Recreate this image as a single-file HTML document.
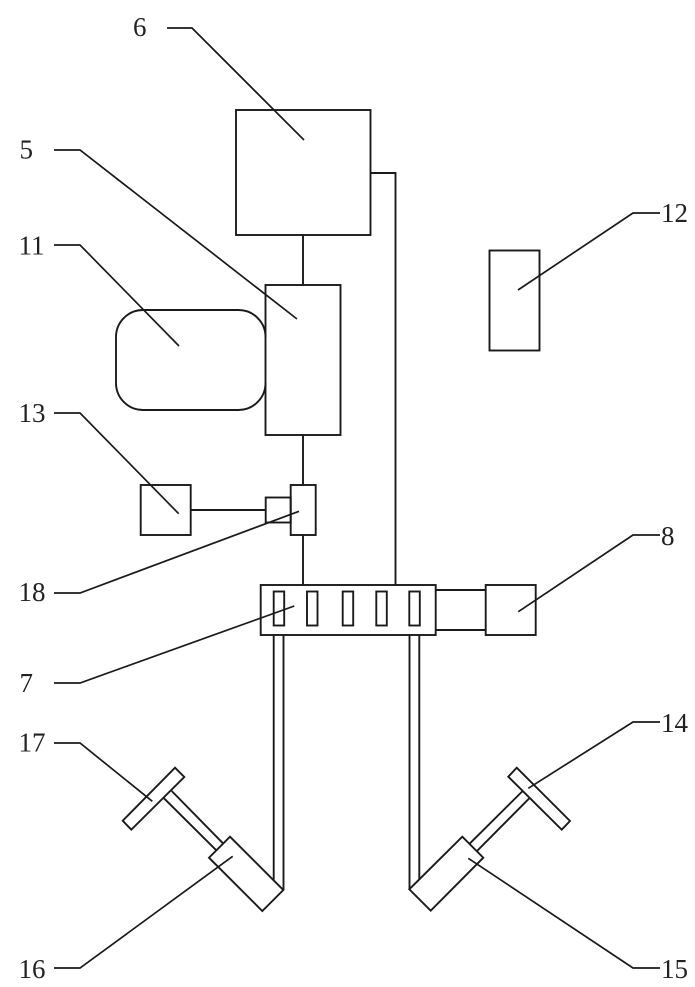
<!DOCTYPE html>
<html><head><meta charset="utf-8"><style>
html,body{margin:0;padding:0;background:#fff;width:695px;height:987px;overflow:hidden}
svg{display:block}
text{font-family:"Liberation Serif",serif;font-size:27px;fill:#222}
.s{fill:none;stroke:#1a1a1a;stroke-width:1.9}
.l{fill:none;stroke:#1a1a1a;stroke-width:1.7}
</style></head><body>
<svg width="695" height="987" viewBox="0 0 695 987" xmlns="http://www.w3.org/2000/svg">
<g class="s">
<rect x="236" y="110" width="134.5" height="125"/>
<rect x="265.5" y="285" width="75" height="150"/>
<path d="M265.5 337A27 27 0 0 0 238.5 310H143A27 27 0 0 0 116 337V383A27 27 0 0 0 143 410H238.5A27 27 0 0 0 265.5 383"/>
<rect x="489.5" y="250.5" width="50" height="100"/>
<rect x="140.7" y="485" width="50" height="50"/>
<rect x="265.7" y="497.5" width="25" height="25"/>
<rect x="290.7" y="485" width="25" height="50"/>
<rect x="260.7" y="585" width="175" height="50"/>
<rect x="485.7" y="585" width="50" height="50"/>
<rect x="273.7" y="591.5" width="10.5" height="34"/>
<rect x="307" y="591.5" width="10.5" height="34"/>
<rect x="342.7" y="591.5" width="10.5" height="34"/>
<rect x="376.3" y="591.5" width="10.5" height="34"/>
<rect x="409.3" y="591.5" width="10.5" height="34"/>
<path d="M303 235V285M303 435V485M303 535V585"/>
<path d="M370.5 173H395.5V585"/>
<path d="M190.7 510H265.7"/>
<path d="M435.7 590H485.7M435.7 630H485.7"/>
<path d="M273.7 635V880M283.5 635V890"/>
<path d="M409.5 635V889.5M419.3 635V880"/>
<polygon points="175,767.7 184.3,777 131.3,829.7 122.7,820.7"/>
<path d="M171.7 791L223 843.3M164 798.3L216.7 850.7"/>
<polygon points="230,836.7 283.3,890 262.3,911 209,857.7"/>
<polygon points="516.7,767.7 570,821 561.7,829.7 508.3,776.7"/>
<path d="M522.7 791L470 843.3M529.3 798.3L477.3 850.7"/>
<polygon points="462.3,836.7 483.3,857.7 430.7,910.7 409.3,889.3"/>
</g>
<g class="l">
<path d="M167 28H192L304 140"/>
<path d="M54 150H80L297 319"/>
<path d="M54 245H80L179 346"/>
<path d="M54 413H80L178.7 513.7"/>
<path d="M54 593H80L299 511.3"/>
<path d="M54 683H80L294.3 606"/>
<path d="M54 743H80L152.3 801.3"/>
<path d="M54 968H80L232.7 856.3"/>
<path d="M660 213H633L518 290"/>
<path d="M660 535H633L518.3 611.7"/>
<path d="M660 722H633L528.3 788.3"/>
<path d="M660 968H633L468.3 858.3"/>
</g>
<text x="133" y="36">6</text>
<text x="19.5" y="158.5">5</text>
<text x="18.5" y="254.5">11</text>
<text x="18.5" y="422">13</text>
<text x="18.5" y="601">18</text>
<text x="19.5" y="692">7</text>
<text x="18.5" y="751.5">17</text>
<text x="18.5" y="978">16</text>
<text x="661" y="222">12</text>
<text x="661" y="545">8</text>
<text x="661" y="732">14</text>
<text x="661" y="978">15</text>
</svg>
</body></html>
